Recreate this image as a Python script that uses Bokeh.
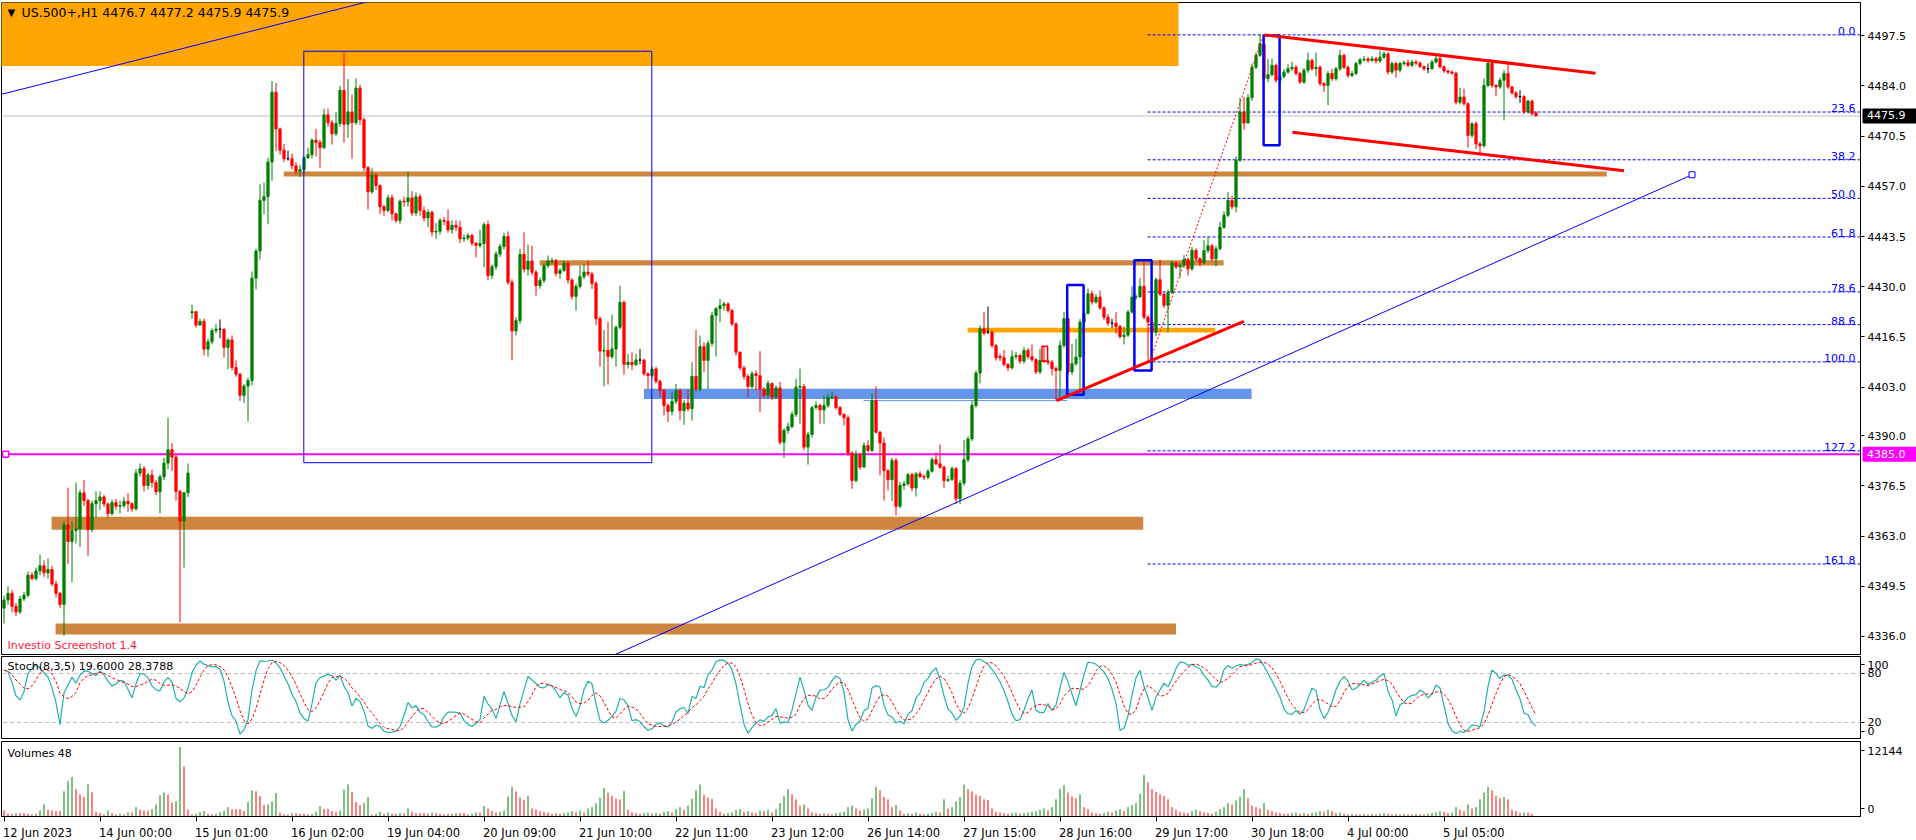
import numpy as np
from bokeh.plotting import figure
from bokeh.layouts import column
from bokeh.models import ColumnDataSource, FixedTicker, Range1d, Label
from bokeh.core.properties import value
from bokeh.embed import file_html
from bokeh.resources import INLINE

FONT = "DejaVu Sans"

# ---------------- data (hourly bars, US.500+ H1) ----------------
opens = [
 4343.6, 4345.8, 4347.6, 4344.1, 4342.6, 4346.1, 4347.1, 4352.5, 4351.6, 4353.6,
 4355.0, 4353.1, 4354.0, 4350.1, 4347.6, 4344.6, 4366.0, 4361.5, 4364.5, 4364.9,
 4374.6, 4372.5, 4364.7, 4371.7, 4372.5, 4373.5, 4371.6, 4369.0, 4372.0, 4371.0,
 4371.2, 4372.3, 4371.7, 4370.3, 4379.9, 4381.1, 4376.6, 4379.4, 4377.4, 4374.9,
 4378.9, 4382.6, 4386.2, 4384.2, 4375.0, 4367.0, 4374.6, 4423.0, 4423.3, 4419.7,
 4420.7, 4413.2, 4415.2, 4418.2, 4418.6, 4418.6, 4413.7, 4415.7, 4408.3, 4406.5,
 4400.8, 4403.3, 4404.8, 4432.3, 4439.6, 4453.2, 4454.2, 4463.5, 4482.3, 4472.4,
 4466.7, 4464.4, 4464.4, 4462.5, 4461.0, 4461.5, 4464.7, 4465.5, 4469.4, 4468.8,
 4467.4, 4476.2, 4474.1, 4471.1, 4473.9, 4482.8, 4473.7, 4477.0, 4474.1, 4483.4,
 4474.9, 4462.0, 4455.5, 4460.0, 4457.2, 4451.5, 4450.5, 4453.9, 4449.6, 4447.8,
 4453.0, 4452.8, 4453.9, 4449.8, 4454.2, 4450.5, 4448.5, 4450.0, 4444.7, 4444.9,
 4447.8, 4447.6, 4445.3, 4446.5, 4446.0, 4442.9, 4443.1, 4443.8, 4441.7, 4441.1,
 4441.6, 4446.7, 4433.0, 4435.4, 4438.8, 4440.8, 4443.5, 4431.2, 4418.1, 4420.9,
 4438.7, 4434.7, 4436.9, 4433.9, 4430.3, 4431.7, 4435.7, 4436.8, 4437.0, 4433.6,
 4434.4, 4436.3, 4431.8, 4427.4, 4430.1, 4432.7, 4433.9, 4433.4, 4430.9, 4421.4,
 4412.7, 4412.9, 4411.2, 4413.3, 4419.1, 4425.8, 4409.1, 4409.7, 4409.1, 4410.3,
 4410.3, 4406.6, 4406.1, 4407.9, 4404.6, 4402.1, 4398.1, 4396.5, 4399.2, 4402.1,
 4396.7, 4398.7, 4397.2, 4405.9, 4402.5, 4413.9, 4410.2, 4414.8, 4422.3, 4424.1,
 4424.9, 4425.4, 4423.6, 4420.0, 4412.4, 4408.2, 4405.9, 4403.2, 4406.6, 4406.1,
 4402.5, 4400.8, 4404.0, 4400.3, 4402.8, 4388.2, 4391.4, 4392.4, 4395.7, 4403.0,
 4403.2, 4386.9, 4390.3, 4397.5, 4398.1, 4396.9, 4398.1, 4400.2, 4400.4, 4397.5,
 4395.7, 4394.8, 4385.3, 4377.9, 4384.9, 4381.5, 4387.3, 4386.0, 4399.4, 4390.9,
 4388.0, 4380.6, 4378.1, 4383.3, 4371.0, 4376.6, 4377.0, 4379.5, 4375.9, 4379.7,
 4379.0, 4378.8, 4380.4, 4383.5, 4382.4, 4381.5, 4377.9, 4378.2, 4381.1, 4373.0,
 4377.2, 4383.5, 4389.1, 4398.1, 4406.8, 4418.7, 4417.8, 4417.8, 4414.2, 4411.3,
 4410.9, 4409.1, 4408.2, 4411.2, 4411.5, 4410.0, 4412.9, 4411.2, 4410.4, 4407.1,
 4410.2, 4410.0, 4409.7, 4408.0, 4407.5, 4414.2, 4421.4, 4407.1, 4409.3, 4411.1,
 4420.5, 4422.9, 4428.1, 4425.9, 4427.2, 4424.3, 4421.8, 4420.2, 4420.2, 4419.3,
 4416.6, 4417.0, 4423.2, 4427.2, 4427.3, 4430.1, 4421.8, 4420.5, 4417.8, 4431.9,
 4428.0, 4425.0, 4428.5, 4436.4, 4435.3, 4435.8, 4437.3, 4434.8, 4439.8, 4437.5,
 4436.5, 4439.7, 4441.0, 4437.5, 4440.2, 4446.0, 4449.2, 4453.2, 4451.5, 4464.0,
 4477.0, 4474.0, 4480.8, 4489.0, 4492.2, 4495.3, 4486.0, 4487.0, 4489.5, 4485.5,
 4486.5, 4487.7, 4488.6, 4489.0, 4487.3, 4485.0, 4488.2, 4490.8, 4488.6, 4489.0,
 4484.6, 4484.1, 4487.3, 4485.9, 4488.6, 4492.2, 4489.0, 4486.8, 4487.3, 4490.0,
 4491.0, 4491.2, 4490.8, 4491.3, 4490.7, 4491.7, 4492.6, 4487.7, 4490.0, 4488.2,
 4489.9, 4490.2, 4489.5, 4490.4, 4490.1, 4489.2, 4488.6, 4488.6, 4490.4, 4491.3,
 4489.1, 4488.0, 4487.7, 4487.4, 4479.6, 4481.0, 4479.2, 4470.7, 4473.8, 4468.4,
 4467.9, 4484.1, 4490.1, 4484.1, 4483.7, 4485.5, 4487.3, 4483.7, 4482.1, 4481.1,
 4481.1, 4477.0, 4479.9, 4476.7]

closes = [
 4345.8, 4347.6, 4344.1, 4342.6, 4346.1, 4347.1, 4352.5, 4351.6, 4353.6, 4355.0,
 4353.1, 4354.0, 4350.1, 4347.6, 4344.6, 4366.0, 4361.5, 4364.5, 4364.9, 4374.6,
 4372.5, 4364.7, 4371.7, 4372.5, 4373.5, 4371.6, 4369.0, 4372.0, 4371.0, 4371.2,
 4372.3, 4371.7, 4370.3, 4379.9, 4381.1, 4376.6, 4379.4, 4377.4, 4374.9, 4378.9,
 4382.6, 4386.2, 4384.2, 4375.0, 4367.0, 4374.6, 4379.9, 4423.3, 4419.7, 4420.7,
 4413.2, 4415.2, 4418.2, 4418.6, 4418.6, 4413.7, 4415.7, 4408.3, 4406.5, 4400.8,
 4403.3, 4404.8, 4432.3, 4439.6, 4453.2, 4454.2, 4463.5, 4482.3, 4472.4, 4466.7,
 4464.4, 4464.4, 4462.5, 4461.0, 4461.5, 4464.7, 4465.5, 4469.4, 4468.8, 4467.4,
 4476.2, 4474.1, 4471.1, 4473.9, 4482.8, 4473.7, 4477.0, 4474.1, 4483.4, 4474.9,
 4462.0, 4455.5, 4460.0, 4457.2, 4451.5, 4450.5, 4453.9, 4449.6, 4447.8, 4453.0,
 4452.8, 4453.9, 4449.8, 4454.2, 4450.5, 4448.5, 4450.0, 4444.7, 4444.9, 4447.8,
 4447.6, 4445.3, 4446.5, 4446.0, 4442.9, 4443.1, 4443.8, 4441.7, 4441.1, 4441.6,
 4446.7, 4433.0, 4435.4, 4438.8, 4440.8, 4443.5, 4431.2, 4418.1, 4420.9, 4438.7,
 4434.7, 4436.9, 4433.9, 4430.3, 4431.7, 4435.7, 4436.9, 4437.0, 4433.6, 4434.4,
 4436.3, 4431.8, 4427.4, 4430.1, 4432.7, 4433.9, 4433.4, 4430.9, 4421.4, 4412.7,
 4412.9, 4411.2, 4413.3, 4419.1, 4425.8, 4409.1, 4409.7, 4409.1, 4410.3, 4410.3,
 4406.6, 4406.1, 4407.9, 4404.6, 4402.1, 4398.1, 4396.5, 4399.2, 4402.1, 4396.7,
 4398.7, 4397.2, 4405.9, 4402.5, 4413.9, 4410.2, 4414.8, 4422.3, 4424.1, 4424.9,
 4425.4, 4423.6, 4420.0, 4412.4, 4408.2, 4405.9, 4403.2, 4406.6, 4406.1, 4402.5,
 4400.8, 4404.0, 4400.3, 4402.8, 4388.2, 4391.4, 4392.4, 4395.7, 4403.0, 4403.2,
 4386.9, 4390.3, 4397.5, 4398.1, 4396.9, 4398.1, 4400.3, 4400.4, 4397.5, 4395.7,
 4394.8, 4385.3, 4377.9, 4384.9, 4381.5, 4387.3, 4386.0, 4399.4, 4390.9, 4388.0,
 4380.6, 4378.1, 4383.3, 4371.0, 4376.6, 4377.0, 4379.5, 4375.9, 4379.7, 4379.0,
 4378.8, 4380.4, 4383.5, 4382.4, 4381.5, 4377.9, 4378.2, 4381.1, 4373.0, 4377.2,
 4383.5, 4389.1, 4398.1, 4406.8, 4418.7, 4417.5, 4417.8, 4414.2, 4410.9, 4410.9,
 4409.1, 4408.2, 4411.2, 4411.5, 4410.0, 4412.9, 4411.2, 4410.4, 4407.1, 4410.2,
 4410.0, 4409.7, 4408.0, 4407.5, 4414.2, 4421.4, 4407.1, 4409.3, 4411.1, 4420.5,
 4422.9, 4428.1, 4425.9, 4427.2, 4424.3, 4421.8, 4420.2, 4420.2, 4419.3, 4416.6,
 4417.0, 4423.2, 4427.2, 4427.3, 4430.1, 4421.8, 4420.5, 4417.8, 4431.9, 4428.0,
 4425.0, 4428.5, 4436.4, 4435.3, 4435.8, 4437.3, 4434.8, 4439.8, 4437.5, 4436.5,
 4439.7, 4441.0, 4437.5, 4440.2, 4446.0, 4449.2, 4453.2, 4451.5, 4464.0, 4477.0,
 4474.0, 4480.8, 4489.0, 4492.2, 4495.3, 4486.0, 4487.0, 4489.5, 4485.5, 4486.5,
 4487.7, 4488.6, 4489.0, 4487.3, 4485.0, 4488.2, 4490.8, 4488.6, 4489.0, 4484.6,
 4484.1, 4487.3, 4485.9, 4488.6, 4492.2, 4489.0, 4486.8, 4487.3, 4490.0, 4491.0,
 4491.2, 4490.8, 4491.3, 4490.7, 4491.7, 4492.6, 4487.7, 4490.0, 4488.2, 4490.0,
 4490.2, 4489.5, 4490.4, 4490.1, 4489.2, 4488.6, 4488.6, 4490.4, 4491.3, 4489.1,
 4488.0, 4487.7, 4487.4, 4479.6, 4481.0, 4479.2, 4470.7, 4473.8, 4468.4, 4467.9,
 4484.1, 4490.1, 4484.1, 4483.7, 4485.5, 4487.3, 4483.7, 4482.1, 4481.1, 4481.1,
 4477.0, 4479.9, 4476.5, 4475.9]

highs = [
 4347.0, 4349.5, 4348.5, 4345.0, 4347.0, 4348.0, 4353.5, 4353.3, 4354.5, 4358.0,
 4356.5, 4357.0, 4355.0, 4351.0, 4348.0, 4367.0, 4376.0, 4367.0, 4377.4, 4375.5,
 4378.0, 4373.0, 4372.5, 4375.0, 4375.0, 4374.0, 4372.0, 4372.8, 4373.0, 4372.5,
 4373.5, 4374.5, 4372.0, 4381.0, 4382.5, 4381.8, 4380.0, 4380.8, 4378.0, 4379.5,
 4384.0, 4394.8, 4388.0, 4384.8, 4375.5, 4375.0, 4382.5, 4425.2, 4423.5, 4421.5,
 4421.5, 4416.0, 4418.8, 4420.0, 4421.2, 4418.8, 4416.2, 4416.9, 4410.2, 4406.9,
 4403.8, 4405.6, 4434.1, 4440.2, 4457.5, 4458.0, 4464.7, 4485.3, 4484.8, 4472.8,
 4468.4, 4466.6, 4465.8, 4463.5, 4462.8, 4465.2, 4467.4, 4469.9, 4472.4, 4469.5,
 4477.9, 4477.9, 4474.8, 4476.9, 4484.0, 4493.0, 4485.8, 4481.7, 4486.0, 4484.3,
 4475.5, 4462.5, 4461.8, 4460.5, 4457.5, 4452.0, 4454.8, 4454.8, 4449.9, 4453.5,
 4454.2, 4461.0, 4455.7, 4455.4, 4455.0, 4451.5, 4450.8, 4450.5, 4447.1, 4448.5,
 4448.7, 4450.7, 4447.8, 4447.8, 4447.8, 4444.0, 4444.4, 4444.3, 4442.0, 4445.3,
 4447.3, 4447.8, 4436.0, 4439.5, 4441.5, 4444.5, 4444.9, 4432.0, 4421.8, 4440.2,
 4444.6, 4441.3, 4441.1, 4434.5, 4432.5, 4436.3, 4438.4, 4437.8, 4437.5, 4435.0,
 4437.0, 4436.8, 4432.3, 4430.8, 4435.7, 4436.1, 4437.0, 4434.0, 4431.5, 4422.0,
 4418.4, 4420.5, 4422.5, 4419.6, 4430.3, 4426.3, 4412.0, 4412.4, 4412.0, 4413.3,
 4410.6, 4407.0, 4408.5, 4408.5, 4405.0, 4402.5, 4398.6, 4401.6, 4403.9, 4402.6,
 4399.5, 4402.5, 4409.7, 4418.4, 4416.9, 4415.1, 4415.5, 4423.2, 4424.5, 4426.7,
 4426.0, 4425.8, 4424.0, 4420.5, 4412.6, 4408.8, 4406.5, 4407.3, 4407.5, 4412.7,
 4403.0, 4404.8, 4404.3, 4403.5, 4404.4, 4392.0, 4393.5, 4396.5, 4405.3, 4408.0,
 4403.8, 4391.0, 4398.0, 4399.2, 4398.5, 4400.8, 4401.2, 4401.9, 4401.0, 4398.0,
 4396.0, 4395.4, 4385.8, 4386.0, 4385.3, 4388.2, 4388.7, 4401.4, 4403.2, 4391.2,
 4389.5, 4381.0, 4384.0, 4384.0, 4377.5, 4377.8, 4380.0, 4380.0, 4380.2, 4380.4,
 4379.6, 4381.0, 4384.2, 4385.5, 4387.6, 4382.0, 4379.2, 4381.7, 4381.5, 4378.0,
 4388.8, 4389.8, 4399.4, 4407.5, 4419.6, 4423.2, 4424.7, 4418.3, 4414.6, 4412.0,
 4413.0, 4409.5, 4412.9, 4412.5, 4412.0, 4413.8, 4413.5, 4414.5, 4410.8, 4413.3,
 4414.0, 4410.5, 4410.3, 4408.6, 4415.6, 4423.2, 4421.8, 4414.7, 4416.0, 4421.3,
 4423.5, 4429.5, 4429.0, 4428.0, 4429.0, 4424.8, 4422.7, 4421.4, 4423.2, 4419.8,
 4419.3, 4423.8, 4430.1, 4428.0, 4432.3, 4436.6, 4422.3, 4421.0, 4432.5, 4437.3,
 4428.5, 4429.2, 4437.0, 4436.8, 4436.3, 4438.5, 4437.8, 4440.7, 4440.3, 4438.0,
 4442.5, 4443.5, 4441.5, 4441.0, 4447.5, 4450.3, 4455.5, 4454.5, 4465.0, 4480.7,
 4481.0, 4481.8, 4490.0, 4493.0, 4498.0, 4497.0, 4491.2, 4491.3, 4490.0, 4487.3,
 4488.5, 4489.8, 4490.5, 4489.5, 4487.8, 4488.8, 4492.9, 4491.3, 4492.9, 4489.5,
 4485.0, 4488.0, 4488.5, 4489.1, 4493.7, 4492.7, 4489.5, 4488.0, 4490.5, 4491.5,
 4492.0, 4491.8, 4492.0, 4491.8, 4493.5, 4493.2, 4493.0, 4490.6, 4490.5, 4490.5,
 4490.8, 4491.0, 4491.0, 4491.0, 4490.6, 4489.5, 4490.0, 4491.0, 4492.5, 4491.8,
 4489.5, 4488.4, 4488.2, 4487.8, 4483.5, 4483.2, 4479.6, 4474.3, 4474.5, 4469.0,
 4486.0, 4490.8, 4491.0, 4484.5, 4486.2, 4488.2, 4490.1, 4484.0, 4482.6, 4482.8,
 4481.5, 4480.3, 4480.3, 4477.2]

lows = [
 4339.5, 4344.5, 4342.5, 4341.5, 4342.0, 4345.5, 4346.5, 4351.0, 4351.0, 4352.5,
 4352.0, 4351.5, 4349.5, 4346.5, 4343.7, 4336.2, 4355.5, 4350.6, 4361.0, 4360.0,
 4371.0, 4357.7, 4364.0, 4368.0, 4370.0, 4370.8, 4368.0, 4368.5, 4370.0, 4369.0,
 4370.5, 4369.5, 4369.5, 4369.8, 4379.0, 4375.0, 4375.5, 4376.0, 4374.0, 4369.0,
 4378.0, 4381.0, 4380.5, 4372.5, 4339.8, 4354.5, 4373.5, 4421.4, 4419.0, 4419.5,
 4411.5, 4411.2, 4414.5, 4417.5, 4416.2, 4411.0, 4407.8, 4407.5, 4405.8, 4399.3,
 4398.8, 4393.8, 4403.5, 4429.3, 4437.3, 4449.5, 4446.8, 4458.5, 4466.5, 4465.5,
 4463.5, 4463.9, 4461.5, 4460.2, 4459.5, 4460.5, 4464.3, 4464.5, 4465.0, 4462.0,
 4467.0, 4473.0, 4468.2, 4470.5, 4473.0, 4468.7, 4470.0, 4464.4, 4473.5, 4473.5,
 4461.0, 4450.8, 4455.0, 4456.0, 4449.5, 4449.0, 4450.0, 4447.8, 4447.1, 4446.9,
 4451.5, 4451.5, 4449.0, 4449.0, 4449.1, 4447.5, 4446.0, 4443.5, 4442.8, 4444.0,
 4446.5, 4444.5, 4444.2, 4445.0, 4441.7, 4442.0, 4442.5, 4441.0, 4437.9, 4440.5,
 4435.3, 4431.7, 4432.0, 4434.5, 4438.0, 4440.0, 4430.5, 4410.2, 4416.9, 4420.0,
 4433.8, 4433.0, 4433.0, 4427.6, 4429.5, 4431.0, 4435.0, 4436.0, 4432.8, 4432.1,
 4434.0, 4430.8, 4426.5, 4423.6, 4429.5, 4432.0, 4432.8, 4429.4, 4419.6, 4408.5,
 4403.2, 4403.7, 4410.6, 4408.5, 4418.5, 4406.4, 4408.0, 4407.6, 4408.6, 4409.1,
 4406.1, 4402.5, 4405.5, 4404.0, 4400.3, 4395.4, 4393.6, 4395.4, 4398.5, 4394.2,
 4392.9, 4396.5, 4394.0, 4401.8, 4401.8, 4407.0, 4402.5, 4414.0, 4411.2, 4420.5,
 4423.6, 4423.0, 4419.4, 4411.5, 4407.5, 4405.0, 4400.3, 4402.5, 4402.1, 4396.3,
 4400.0, 4399.8, 4399.5, 4399.9, 4387.5, 4384.0, 4390.5, 4392.0, 4395.0, 4393.2,
 4386.0, 4382.2, 4389.5, 4397.0, 4393.2, 4393.2, 4397.5, 4399.8, 4397.0, 4395.2,
 4392.7, 4384.5, 4375.7, 4377.4, 4380.8, 4381.5, 4385.5, 4385.5, 4390.5, 4379.3,
 4372.5, 4375.3, 4372.4, 4368.5, 4370.5, 4375.5, 4376.5, 4375.0, 4373.6, 4378.5,
 4378.0, 4378.2, 4380.0, 4382.0, 4381.0, 4375.9, 4377.5, 4377.8, 4371.6, 4371.6,
 4376.5, 4382.8, 4388.5, 4397.5, 4404.0, 4416.9, 4417.3, 4413.5, 4410.2, 4410.0,
 4408.6, 4407.3, 4407.8, 4410.5, 4409.3, 4409.3, 4410.5, 4409.8, 4406.5, 4406.5,
 4409.5, 4409.0, 4406.2, 4399.6, 4399.6, 4413.5, 4406.5, 4406.3, 4408.8, 4401.4,
 4419.5, 4422.5, 4425.2, 4425.5, 4423.8, 4421.0, 4419.5, 4418.9, 4417.4, 4416.0,
 4414.5, 4416.5, 4422.8, 4426.5, 4427.0, 4421.2, 4409.5, 4415.5, 4416.7, 4427.5,
 4424.3, 4417.8, 4428.0, 4434.8, 4432.5, 4435.0, 4433.0, 4434.3, 4436.8, 4435.5,
 4436.0, 4439.0, 4436.8, 4435.5, 4439.8, 4445.5, 4448.7, 4450.8, 4450.0, 4463.5,
 4472.2, 4475.5, 4480.0, 4488.5, 4491.8, 4485.5, 4485.0, 4486.5, 4484.8, 4484.5,
 4486.0, 4487.2, 4488.0, 4486.8, 4484.5, 4484.5, 4487.5, 4488.0, 4486.5, 4484.0,
 4482.3, 4478.8, 4485.3, 4485.4, 4488.0, 4488.5, 4486.2, 4486.3, 4486.9, 4489.5,
 4490.5, 4490.2, 4490.5, 4490.0, 4490.2, 4491.2, 4487.0, 4487.2, 4486.2, 4487.6,
 4489.5, 4489.0, 4489.0, 4489.5, 4488.8, 4488.0, 4487.4, 4488.3, 4490.0, 4488.6,
 4487.5, 4487.1, 4487.0, 4479.0, 4479.0, 4478.6, 4467.4, 4470.0, 4467.0, 4465.9,
 4467.4, 4483.6, 4483.5, 4481.2, 4483.2, 4474.7, 4483.2, 4481.6, 4480.5, 4479.4,
 4476.4, 4476.5, 4476.0, 4475.9]

volumes = [
 1050, 470, 470, 590, 590, 590, 470, 350, 470, 1050,
 2110, 1170, 1050, 940, 940, 4400, 6160, 6930, 4750, 3870,
 3400, 5640, 4230, 820, 590, 350, 1050, 590, 350, 470,
 350, 700, 700, 1640, 1170, 1050, 1050, 1290, 2110, 3700,
 4230, 3870, 2470, 2700, 12144, 8800, 1170, 350, 470, 760,
 940, 470, 350, 470, 760, 940, 1640, 1290, 1290, 1290,
 940, 2520, 4580, 4400, 3580, 2000, 2110, 2640, 4110, 700,
 350, 350, 590, 590, 470, 470, 350, 470, 820, 1820,
 1350, 1350, 940, 820, 1050, 4700, 5640, 4290, 2520, 2000,
 2350, 3400, 350, 470, 820, 470, 700, 470, 470, 590,
 590, 1410, 820, 590, 590, 590, 470, 700, 590, 470,
 350, 470, 470, 590, 590, 590, 350, 470, 700, 700,
 1820, 1410, 940, 700, 820, 1050, 3500, 5200, 4400, 3300,
 2900, 3600, 1400, 1200, 940, 820, 700, 470, 590, 470,
 590, 700, 940, 820, 1050, 700, 1400, 1640, 2300, 3300,
 5000, 4200, 3600, 3100, 3000, 4500, 1200, 700, 590, 470,
 590, 700, 470, 590, 470, 820, 940, 700, 1290, 1640,
 1170, 1900, 3100, 4600, 5600, 3800, 3300, 3100, 1400, 820,
 470, 590, 700, 1170, 1290, 820, 940, 700, 590, 1050,
 940, 1170, 700, 1290, 2350, 3600, 4800, 3900, 3000, 1900,
 2100, 1400, 700, 590, 470, 590, 470, 350, 590, 700,
 820, 1640, 1900, 1400, 1050, 1170, 1400, 3200, 5200, 4600,
 3400, 3000, 1640, 2000, 1050, 470, 590, 470, 700, 470,
 350, 470, 590, 820, 700, 3000, 1400, 1640, 2600, 3400,
 5600, 4800, 4400, 3800, 3600, 3000, 2900, 1400, 820, 700,
 590, 470, 590, 700, 470, 590, 700, 820, 940, 1170,
 1400, 1050, 1640, 3000, 4800, 5500, 4200, 3500, 3200, 3900,
 1640, 1290, 700, 590, 470, 590, 820, 700, 1050, 1290,
 940, 1640, 2000, 2350, 4000, 7300, 6000, 4800, 4300, 3900,
 3600, 3000, 1640, 1170, 820, 700, 590, 940, 1170, 940,
 700, 590, 470, 820, 1290, 1640, 2350, 2100, 2800, 3500,
 4800, 3200, 1900, 1640, 1400, 2350, 1170, 940, 700, 590,
 470, 470, 590, 700, 470, 590, 470, 590, 700, 940,
 820, 1170, 940, 590, 700, 470, 350, 470, 350, 350,
 470, 350, 470, 350, 470, 590, 470, 350, 470, 350,
 470, 350, 350, 470, 350, 350, 470, 590, 700, 940,
 820, 590, 700, 1640, 1170, 940, 2100, 1400, 1640, 3000,
 4200, 5200, 4600, 3600, 3200, 3400, 3000, 1170, 940, 590,
 700, 700, 470, 48]

time_labels = ["12 Jun 2023", "14 Jun 00:00", "15 Jun 01:00", "16 Jun 02:00",
               "19 Jun 04:00", "20 Jun 09:00", "21 Jun 10:00", "22 Jun 11:00",
               "23 Jun 12:00", "26 Jun 14:00", "27 Jun 15:00", "28 Jun 16:00",
               "29 Jun 17:00", "30 Jun 18:00", "4 Jul 00:00", "5 Jul 05:00"]
time_label_bars = [0, 24, 48, 72, 96, 120, 144, 168, 192, 216, 240, 264, 288, 312, 336, 360]
price_ticks = [4336.0, 4349.5, 4363.0, 4376.5, 4390.0, 4403.0, 4416.5, 4430.0,
               4443.5, 4457.0, 4470.5, 4484.0, 4497.5]
fib_levels = [0.0, 23.6, 38.2, 50.0, 61.8, 78.6, 88.6, 100.0, 127.2, 161.8]
fib_high, fib_low = 4497.7, 4409.8
bid_price = 4475.9
alert_price = 4385.0

# ---------------- derived ----------------
n = len(closes)
idx = np.arange(n)
o = np.array(opens, float); c = np.array(closes, float)
h = np.array(highs, float); l = np.array(lows, float)
col = np.where(c > o, "#008000", np.where(c < o, "#FF0000", "#000000"))
src = ColumnDataSource(dict(x=idx, h=h, l=l, top=np.maximum(o, c), bot=np.minimum(o, c), col=col))

# stochastic (8,3,5)
num = np.zeros(n); den = np.zeros(n)
for i in range(n):
    s = max(0, i - 7)
    ll = l[s:i + 1].min(); hh = h[s:i + 1].max()
    num[i] = c[i] - ll; den[i] = hh - ll
K = np.zeros(n)
for i in range(n):
    s = max(0, i - 2)
    d = den[s:i + 1].sum()
    K[i] = 100.0 * num[s:i + 1].sum() / d if d > 0 else 50.0
D = np.array([K[max(0, i - 4):i + 1].mean() for i in range(n)])

v = np.array(volumes, float)
vcol = ["#FF0000"] + ["#008000" if v[i] > v[i - 1] else "#FF0000" for i in range(1, n)]
vsrc = ColumnDataSource(dict(x=idx, v=v, z=np.zeros(n), col=vcol))

# ---------------- figures ----------------
XR = Range1d(-0.625, 464.125)
FW = 1859
RB = 56


def make_fig(fh, yr, top, bottom, xloc=None):
    p = figure(frame_width=FW, frame_height=fh, x_range=XR, y_range=yr,
               output_backend="svg", toolbar_location=None,
               y_axis_location="right", x_axis_location=xloc,
               min_border_left=1, min_border_right=RB, min_border_top=top,
               min_border_bottom=bottom,
               background_fill_color="white", border_fill_color="white",
               outline_line_color="black", outline_line_width=1)
    for g in p.grid:
        g.visible = False
    ax = p.yaxis[0]
    ax.axis_line_color = "black"
    ax.major_tick_out = 4
    ax.major_tick_in = 0
    ax.minor_tick_line_color = None
    ax.major_label_text_font = FONT
    ax.major_label_text_font_size = "11px"
    ax.major_label_text_color = "black"
    ax.major_label_standoff = 3
    return p


# ---- price panel ----
p1 = make_fig(652, Range1d(4331.15, 4506.4), 2, 1)
p1.yaxis[0].ticker = FixedTicker(ticks=price_ticks)
p1.yaxis[0].major_label_overrides = {t: f"{t:.1f}" for t in price_ticks}

# zones (background objects)
p1.quad(left=[-2], right=[293.6], bottom=[4489.3], top=[4520], fill_color="#FFA500", line_color=None)
p1.quad(left=[69.95, 133.9, 11.9, 12.9], right=[400.7, 304.9, 284.8, 293.0],
        bottom=[4459.6, 4435.7, 4364.7, 4336.5], top=[4461.0, 4437.1, 4368.2, 4339.5],
        fill_color="#CD853F", line_color=None)
p1.quad(left=[160.0], right=[311.9], bottom=[4399.8], top=[4402.6], fill_color="#6495ED", line_color=None)
p1.quad(left=[240.9], right=[302.8], bottom=[4417.7], top=[4419.0], fill_color="#FFA500", line_color=None)
p1.segment(x0=[214.9], y0=[4399.4], x1=[265.8], y1=[4399.4], line_color="#6495ED", line_width=1)

# fibonacci retracement
fib_prices = [fib_high - lv / 100.0 * (fib_high - fib_low) for lv in fib_levels]
p1.segment(x0=[285.9] * len(fib_prices), y0=fib_prices, x1=[470] * len(fib_prices), y1=fib_prices,
           line_color="#0000FF", line_width=1, line_dash="3 2")
p1.text(x=[462.875] * len(fib_prices), y=fib_prices, text=[f"{lv:.1f}" for lv in fib_levels],
        text_font=value(FONT), text_font_size="11px", text_color="#0000FF",
        text_align="right", text_baseline="bottom")

# bid line and alert line
p1.segment(x0=[-2], y0=[bid_price], x1=[470], y1=[bid_price], line_color="#C0C0C0", line_width=1)
p1.segment(x0=[-2], y0=[alert_price], x1=[470], y1=[alert_price], line_color="#FF00FF", line_width=2)
p1.scatter(x=[0.4], y=[alert_price], marker="square", size=6, fill_color="white", line_color="#FF00FF", line_width=1.5)

# candles
p1.segment(x0="x", y0="l", x1="x", y1="h", line_color="col", line_width=1, source=src)
p1.vbar(x="x", width=0.55, top="top", bottom="bot", fill_color="col", line_color="col", line_width=1, source=src)

# big thin blue box
p1.quad(left=[74.95], right=[161.95], bottom=[4382.7], top=[4493.3], fill_alpha=0,
        line_color="#0000FF", line_width=1)
# thick blue boxes
p1.quad(left=[314.9, 265.8, 282.6], right=[318.9, 269.9, 286.9],
        bottom=[4468.0, 4401.0, 4407.5], top=[4497.5, 4430.5, 4437.1],
        fill_alpha=0, line_color="#0000FF", line_width=2.5)
# small red box
p1.quad(left=[259.5], right=[260.9], bottom=[4410.0], top=[4414.0], fill_alpha=0,
        line_color="#FF0000", line_width=1.5)

# trend lines
p1.segment(x0=[-2, 150], y0=[4481.35, 4329.8], x1=[120, 422.0], y1=[4514.5, 4460.1],
           line_color="#0000FF", line_width=1)
p1.scatter(x=[422.0], y=[4460.1], marker="square", size=6, fill_color="white", line_color="#0000FF", line_width=1)
p1.segment(x0=[315.2, 322.1, 263.1], y0=[4497.7, 4471.5, 4399.4],
           x1=[397.9, 405.0, 309.96], y1=[4487.4, 4461.2, 4420.7],
           line_color="#FF0000", line_width=3)
p1.segment(x0=[286.4], y0=[fib_low], x1=[314.9], y1=[fib_high], line_color="#FF0000",
           line_width=1, line_dash="2 2")

# texts
p1.text(x=[0.9], y=[4503.7], text=["\u25bc"], text_font=value(FONT), text_font_size="10px",
        text_color="black", text_align="left", text_baseline="middle")
p1.text(x=[4.4], y=[4503.7], text=["US.500+,H1  4476.7 4477.2 4475.9 4475.9"],
        text_font=value(FONT), text_font_size="12.5px", text_color="black",
        text_align="left", text_baseline="middle")
p1.text(x=[0.9], y=[4333.5], text=["Investio Screenshot 1.4"], text_font=value(FONT),
        text_font_size="11px", text_color="#FF1A3C", text_align="left", text_baseline="middle")

# price tags on the axis side
p1.add_layout(Label(x=464.875, y=bid_price, text="\u00a04475.9\u00a0\u00a0\u00a0", text_font=FONT,
                    text_font_size="11px", text_color="white", background_fill_color="black",
                    border_line_color="black", border_line_width=2,
                    text_baseline="middle", text_align="left"), "right")
p1.add_layout(Label(x=464.875, y=alert_price, text="\u00a04385.0\u00a0\u00a0\u00a0", text_font=FONT,
                    text_font_size="11px", text_color="white", background_fill_color="#FF00FF",
                    border_line_color="#FF00FF", border_line_width=2,
                    text_baseline="middle", text_align="left"), "right")

# ---- stochastic panel ----
p2 = make_fig(82, Range1d(0.4, 100.8), 1, 1)
p2.yaxis[0].ticker = FixedTicker(ticks=[9, 20, 80, 91])
p2.yaxis[0].major_label_overrides = {9: "0", 20: "20", 80: "80", 91: "100"}
p2.segment(x0=[-2, -2], y0=[20, 80], x1=[470, 470], y1=[20, 80], line_color="#C0C0C0",
           line_width=1, line_dash="4 3")
p2.line(idx, K, line_color="#20B2AA", line_width=1.2)
p2.line(idx, D, line_color="#FF0000", line_width=1, line_dash="3 2")
p2.text(x=[0.9], y=[88.6], text=["Stoch(8,3,5) 19.6000 28.3788"], text_font=value(FONT),
        text_font_size="11px", text_color="black", text_align="left", text_baseline="middle")

# ---- volume panel ----
p3 = make_fig(75, Range1d(0, 13140), 2, 0, xloc="below")
p3.yaxis[0].ticker = FixedTicker(ticks=[1400, 11563])
p3.yaxis[0].major_label_overrides = {1400: "0", 11563: "12144"}
p3.segment(x0="x", y0="z", x1="x", y1="v", line_color="col", line_width=1, source=vsrc)
p3.text(x=[0.9], y=[11090], text=["Volumes 48"], text_font=value(FONT), text_font_size="11px",
        text_color="black", text_align="left", text_baseline="middle")

# time axis: labels start just right of their tick (left aligned look)
LBL_PX = 11.5
char_em = {" ": 0.318, ":": 0.337, "J": 0.295, "u": 0.634, "n": 0.634, "l": 0.278}
px_per_bar = FW / (XR.end - XR.start)


def label_width(s):
    return sum(char_em.get(ch, 0.636) for ch in s) * LBL_PX


label_pos = [round(b + (label_width(t) / 2 - 1) / px_per_bar, 3) for b, t in zip(time_label_bars, time_labels)]
xa = p3.xaxis[0]
xa.ticker = FixedTicker(ticks=label_pos, minor_ticks=time_label_bars)
xa.major_label_overrides = {pos: t for pos, t in zip(label_pos, time_labels)}
xa.major_label_text_font = FONT
xa.major_label_text_font_size = f"{LBL_PX}px"
xa.major_label_text_color = "black"
xa.major_tick_out = 0
xa.major_tick_in = 0
xa.major_tick_line_color = None
xa.minor_tick_out = 5
xa.minor_tick_in = 0
xa.minor_tick_line_color = "black"
xa.axis_line_color = "black"
xa.major_label_standoff = 4

layout = column(p1, p2, p3, spacing=0)
open("out.html", "w").write(file_html(layout, INLINE))
